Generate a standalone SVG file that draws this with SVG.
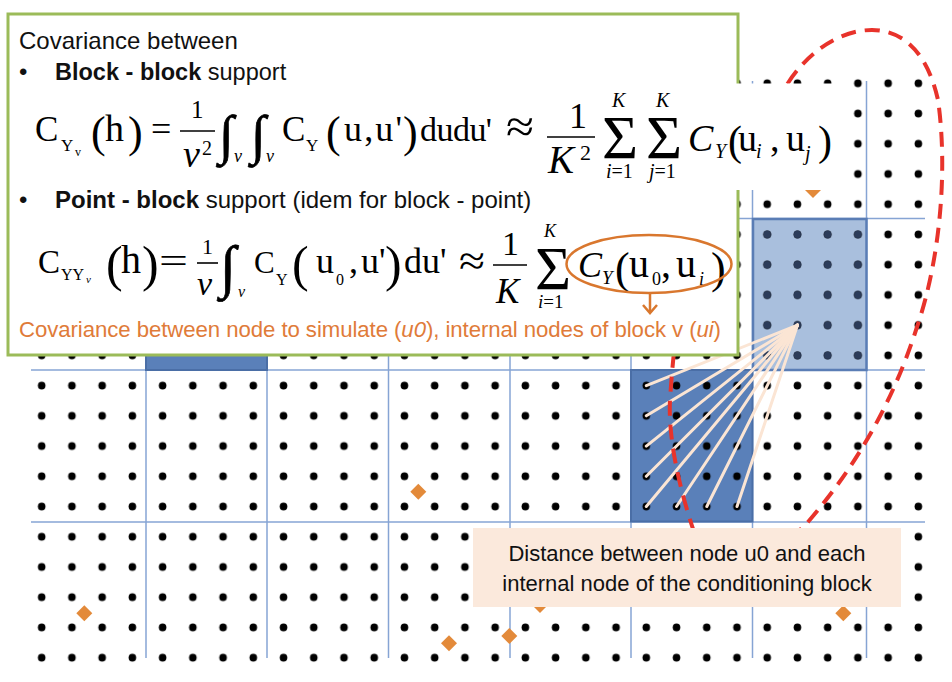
<svg xmlns="http://www.w3.org/2000/svg" width="952" height="682" viewBox="0 0 952 682">
<defs>
<pattern id="dots" patternUnits="userSpaceOnUse" x="26.585" y="68.185" width="30.23" height="30.23"><circle cx="15.115" cy="15.115" r="3.8" fill="#000"/></pattern>
<pattern id="navydots" patternUnits="userSpaceOnUse" x="26.585" y="68.185" width="30.23" height="30.23"><circle cx="15.115" cy="15.115" r="3.8" fill="#2c3c5a"/></pattern>
<style>
.gl{stroke:#86a4d4;stroke-width:1.5;fill:none}
.fan{stroke:#fbe5d4;stroke-width:3;stroke-linecap:round}
.dia{fill:#e38a3a}
.s{font-family:"Liberation Sans",Arial,sans-serif;fill:#111}
.f{font-family:"Liberation Serif","Times New Roman",serif;fill:#000}
.i{font-style:italic}
.int{stroke:#000;stroke-width:0.7}
.bar{stroke:#000;stroke-width:1.6}
.or{fill:#e07b39}
</style>
</defs>
<rect width="952" height="682" fill="#fff"/>
<g id="grid">
<g class="gl">
<line x1="31" y1="218.5" x2="925" y2="218.5"/>
<line x1="31" y1="370" x2="925" y2="370"/>
<line x1="31" y1="522" x2="925" y2="522"/>
<line x1="146" y1="81" x2="146" y2="658"/>
<line x1="267" y1="81" x2="267" y2="658"/>
<line x1="388.5" y1="81" x2="388.5" y2="658"/>
<line x1="510" y1="81" x2="510" y2="658"/>
<line x1="631" y1="81" x2="631" y2="658"/>
<line x1="752.5" y1="81" x2="752.5" y2="658"/>
<line x1="866.5" y1="81" x2="866.5" y2="658"/>
</g>
<rect x="631" y="370" width="121.5" height="151.5" fill="#5a80b9" stroke="#4a6ea6" stroke-width="2"/>
<rect x="753" y="219" width="113.5" height="151" fill="#a9bfdd"/>
<rect x="26" y="68" width="908" height="605" fill="url(#dots)"/>
<rect x="754" y="220" width="112" height="149" fill="url(#navydots)"/>
<rect x="753" y="219" width="113.5" height="151" fill="none" stroke="#5a7db5" stroke-width="2.5"/>
<rect x="146" y="218.5" width="121" height="151.5" fill="#5a80b9" stroke="#4a6ea6" stroke-width="2"/>
</g>
<g id="connectors">
<line class="fan" x1="797.5" y1="325.1" x2="646.3" y2="385.6"/>
<line class="fan" x1="797.5" y1="325.1" x2="646.3" y2="415.8"/>
<line class="fan" x1="797.5" y1="325.1" x2="646.3" y2="446.1"/>
<line class="fan" x1="797.5" y1="325.1" x2="646.3" y2="476.3"/>
<line class="fan" x1="797.5" y1="325.1" x2="646.3" y2="506.5"/>
<line class="fan" x1="797.5" y1="325.1" x2="676.5" y2="506.5"/>
<line class="fan" x1="797.5" y1="325.1" x2="706.8" y2="506.5"/>
<line class="fan" x1="797.5" y1="325.1" x2="737" y2="506.5"/>
<path d="M788,83 C808,52 840,30 872,30 C905,30 928,55 938,100 C948,170 940,260 917,327 C900,380 870,450 808,522 C785,550 710,570 694,532 C680,490 668,440 670,400 C671,385 672,372 673,362 C685,230 735,140 788,83" fill="none" stroke="#e8332b" stroke-width="4" stroke-dasharray="15 9"/>
</g>
<g id="diamonds">
<polygon class="dia" points="813,182 821,190 813,198 805,190"/>
<polygon class="dia" points="418.3,483.7 426.3,491.7 418.3,499.7 410.3,491.7"/>
<polygon class="dia" points="84.3,605.3 92.3,613.3 84.3,621.3 76.3,613.3"/>
<polygon class="dia" points="449,635.3 457,643.3 449,651.3 441,643.3"/>
<polygon class="dia" points="540,597 548,605 540,613 532,605"/>
<polygon class="dia" points="509.3,628 517.3,636 509.3,644 501.3,636"/>
<polygon class="dia" points="843.3,605.3 851.3,613.3 843.3,621.3 835.3,613.3"/>
</g>
<g id="textbox">
<rect x="8" y="14" width="730" height="341" fill="#fff" stroke="#9bbb59" stroke-width="3"/>
<rect x="30" y="83.5" width="818" height="106.5" fill="#fff"/>
<text class="s" x="19" y="49" font-size="24">Covariance between</text>
<text class="s" x="19" y="80" font-size="24">•</text>
<text class="s" x="55" y="80" font-size="23.5"><tspan font-weight="bold">Block - block</tspan> support</text>
<text class="s" x="19" y="208" font-size="24">•</text>
<text class="s" x="55" y="208" font-size="24"><tspan font-weight="bold">Point - block</tspan> support (idem for block - point)</text>
<text class="s or" x="19" y="337" font-size="22.2" textLength="702">Covariance between node to simulate (<tspan class="i">u0</tspan>), internal nodes of block v (<tspan class="i">ui</tspan>)</text>
</g>
<g id="formula1" class="f">
<text x="35" y="141" font-size="35">C</text>
<text x="61" y="151" font-size="17">Y</text>
<text x="75" y="156" font-size="12">v</text>
<text x="91" y="147" font-size="44">(</text>
<text x="105" y="141" font-size="38">h</text>
<text x="128" y="147" font-size="44">)</text>
<text x="151" y="141" font-size="36">=</text>
<text x="191" y="118" font-size="25">1</text>
<line class="bar" x1="180" y1="131" x2="215" y2="131"/>
<text class="i" x="183" y="167" font-size="38">v</text>
<text x="202" y="155" font-size="20">2</text>
<text class="int" x="219" y="153" font-size="54">∫</text>
<text class="i" x="234" y="162" font-size="18">v</text>
<text class="int" x="251" y="153" font-size="54">∫</text>
<text class="i" x="266" y="162" font-size="18">v</text>
<text x="282" y="141" font-size="35">C</text>
<text x="306" y="151" font-size="17">Y</text>
<text x="326" y="147" font-size="44">(</text>
<text x="344" y="141" font-size="36" textLength="58">u,u'</text>
<text x="403" y="147" font-size="44">)</text>
<text x="420" y="141" font-size="34" textLength="72">dudu'</text>
<text x="506" y="142" font-size="46" textLength="28" lengthAdjust="spacingAndGlyphs">≈</text>
<text x="569" y="128" font-size="36">1</text>
<line class="bar" x1="547" y1="137" x2="595" y2="137"/>
<text class="i" x="548" y="173" font-size="39">K</text>
<text x="580" y="160" font-size="22">2</text>
<text x="602" y="158" font-size="62">Σ</text>
<text class="i" x="612" y="107" font-size="20">K</text>
<text x="606" y="178" font-size="20"><tspan class="i">i</tspan>=1</text>
<text x="646" y="158" font-size="62">Σ</text>
<text class="i" x="656" y="107" font-size="20">K</text>
<text x="649" y="178" font-size="20"><tspan class="i">j</tspan>=1</text>
<text class="i" x="688" y="151" font-size="38">C</text>
<text class="i" x="715" y="158" font-size="20">Y</text>
<text x="728" y="155" font-size="42">(</text>
<text x="738" y="151" font-size="38">u</text>
<text class="i" x="756" y="158" font-size="20">i</text>
<text x="770" y="151" font-size="38">,</text>
<text x="786" y="151" font-size="38">u</text>
<text class="i" x="805" y="160" font-size="20">j</text>
<text x="818" y="155" font-size="42">)</text>
</g>
<g id="formula2" class="f">
<text x="38" y="273" font-size="33">C</text>
<text x="61" y="280" font-size="16">YY</text>
<text class="i" x="86" y="283" font-size="11">v</text>
<text x="106" y="281" font-size="50">(</text>
<text x="121" y="273" font-size="40">h</text>
<text x="142" y="281" font-size="50">)</text>
<text x="159" y="273" font-size="36" textLength="29" lengthAdjust="spacingAndGlyphs">=</text>
<text x="202" y="254" font-size="22">1</text>
<line class="bar" x1="197" y1="263" x2="218" y2="263"/>
<text class="i" x="197" y="295" font-size="34">v</text>
<text class="int" x="220" y="286" font-size="58">∫</text>
<text class="i" x="238" y="297" font-size="16">v</text>
<text x="254" y="273" font-size="31">C</text>
<text x="276" y="285" font-size="16">Y</text>
<text x="292" y="281" font-size="50">(</text>
<text x="316" y="273" font-size="36">u</text>
<text x="336" y="285" font-size="16">0</text>
<text x="349" y="273" font-size="36">,</text>
<text x="361" y="273" font-size="36">u'</text>
<text x="385" y="281" font-size="50">)</text>
<text x="404" y="273" font-size="36">du'</text>
<text x="459" y="275" font-size="42" textLength="26" lengthAdjust="spacingAndGlyphs">≈</text>
<text x="502" y="255" font-size="34">1</text>
<line class="bar" x1="493" y1="265" x2="527" y2="265"/>
<text class="i" x="496" y="303" font-size="35">K</text>
<text x="535" y="289" font-size="62">Σ</text>
<text class="i" x="544" y="237" font-size="18">K</text>
<text x="538" y="308" font-size="19"><tspan class="i">i</tspan>=1</text>
<text class="i" x="578" y="277" font-size="36">C</text>
<text class="i" x="602" y="284" font-size="19">Y</text>
<text x="615" y="283" font-size="44">(</text>
<text x="629" y="277" font-size="40">u</text>
<text x="652" y="285" font-size="18">0</text>
<text x="661" y="277" font-size="40">,</text>
<text x="676" y="277" font-size="40">u</text>
<text class="i" x="699" y="285" font-size="18">i</text>
<text x="711" y="283" font-size="44">)</text>
</g>
<g id="highlight">
<ellipse cx="649" cy="264" rx="82.5" ry="29" fill="none" stroke="#d9772e" stroke-width="2.5"/>
<line x1="650" y1="293" x2="650" y2="312" stroke="#d9772e" stroke-width="2.5"/>
<polyline points="643,305 650,313 657,305" fill="none" stroke="#d9772e" stroke-width="2.5"/>
</g>
<g id="note">
<rect x="473" y="528" width="428" height="79" fill="#fbe9dc"/>
<text class="s" x="687" y="561" font-size="22" text-anchor="middle" fill="#1e1e1e">Distance between node u0 and each</text>
<text class="s" x="687" y="591" font-size="22" text-anchor="middle" fill="#1e1e1e">internal node of the conditioning block</text>
</g>
</svg>
